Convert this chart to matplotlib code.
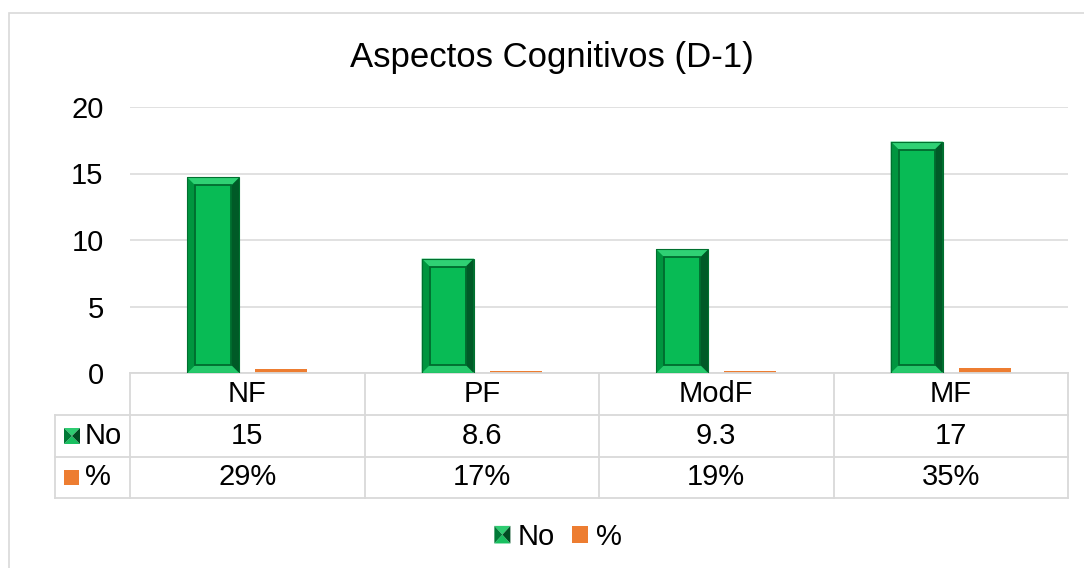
import matplotlib
matplotlib.use("Agg")
import matplotlib.pyplot as plt
from matplotlib.patches import Polygon, Rectangle
from matplotlib.lines import Line2D
from matplotlib.transforms import blended_transform_factory
from matplotlib.legend_handler import HandlerBase

plt.rcParams['font.family'] = ['Liberation Sans', 'DejaVu Sans']

categories = ['NF', 'PF', 'ModF', 'MF']
no_values = [14.7, 8.6, 9.3, 17.4]
pct_values = [0.294, 0.172, 0.186, 0.348]
no_labels = ['15', '8.6', '9.3', '17']
pct_labels = ['29%', '17%', '19%', '35%']
series_names = ['No', '%']

GREEN = '#08bb55'
ORANGE = '#ed7d31'
GRID = '#d9d9d9'
FS = 21

W, H = 1084, 568


def fx(px):
    return px / W


def fy(py):
    return 1 - py / H


def bevel_polys(x0, y0, w, h, bx, by):
    # outer corners, inner corners
    x1, y1 = x0 + w, y0 + h
    ix0, iy0, ix1, iy1 = x0 + bx, y0 + by, x1 - bx, y1 - by
    top = [(x0, y1), (x1, y1), (ix1, iy1), (ix0, iy1)]
    bottom = [(x0, y0), (x1, y0), (ix1, iy0), (ix0, iy0)]
    left = [(x0, y0), (ix0, iy0), (ix0, iy1), (x0, y1)]
    right = [(x1, y0), (ix1, iy0), (ix1, iy1), (x1, y1)]
    return top, bottom, left, right, (ix0, iy0, ix1 - ix0, iy1 - iy0)


def pyramid_key(x0, y0, w, h, transform):
    cx, cy = x0 + w / 2, y0 + h / 2
    pieces = [
        ([(x0, y0 + h), (x0 + w, y0 + h), (cx, cy)], '#2ecc71'),
        ([(x0, y0), (x0 + w, y0), (cx, cy)], '#19c060'),
        ([(x0, y0), (x0, y0 + h), (cx, cy)], '#007a36'),
        ([(x0 + w, y0), (x0 + w, y0 + h), (cx, cy)], '#004d22'),
    ]
    return [Polygon(p, closed=True, facecolor=c, edgecolor='none', transform=transform)
            for p, c in pieces]


class PyramidHandler(HandlerBase):
    def create_artists(self, legend, orig_handle, xdescent, ydescent,
                       width, height, fontsize, trans):
        return pyramid_key(-xdescent, -ydescent, width, height, trans)


fig = plt.figure(figsize=(W / 100, H / 100), dpi=100)
fig.patch.set_facecolor('white')

# chart frame
fig.add_artist(Rectangle((fx(9), fy(575)), fx(1200), fy(13) - fy(575), transform=fig.transFigure,
                         facecolor='none', edgecolor=GRID, lw=1.2))

ax = fig.add_axes([fx(130), fy(373), fx(1068) - fx(130), fy(107) - fy(373)])
ax.set_xlim(-0.5, len(categories) - 0.5)
ax.set_ylim(0, 20)
ax.set_yticks([0, 5, 10, 15, 20])
ax.set_xticks([])
ax.tick_params(axis='y', length=0, pad=19, labelsize=FS)
ax.grid(axis='y', color=GRID, lw=1.1)
ax.set_axisbelow(True)
for s in ['top', 'left', 'right']:
    ax.spines[s].set_visible(False)
ax.spines['bottom'].set_color(GRID)
ax.spines['bottom'].set_linewidth(1.3)

xs = list(range(len(categories)))
bw = 0.222
off = 0.145
bars = ax.bar([x - off for x in xs], no_values, width=bw, color=GREEN, zorder=2)
ax.bar([x + off for x in xs], pct_values, width=bw, color=ORANGE, zorder=2)

# bevel on green bars
bx = 8 / 234.5
by = 8 / 13.3
for b in bars:
    top, bottom, left, right, inner = bevel_polys(b.get_x(), 0, b.get_width(), b.get_height(), bx, by)
    for poly, c in [(top, '#2fd174'), (bottom, '#25c96b'), (left, '#00953f'), (right, '#005a27')]:
        ax.add_patch(Polygon(poly, closed=True, facecolor=c, edgecolor='none', zorder=3))
    ax.add_patch(Rectangle(inner[:2], inner[2], inner[3], facecolor='none',
                           edgecolor='#006b2e', lw=1.3, zorder=4))
    ax.add_patch(Rectangle((b.get_x(), 0), b.get_width(), b.get_height(), facecolor='none',
                           edgecolor='#00702f', lw=0.8, zorder=4))

# data table
axh = 373 - 107
tr = blended_transform_factory(ax.transData, ax.transAxes)


def ay(py):
    return -(py - 373) / axh


line_kw = dict(color=GRID, lw=1.3, clip_on=False)
for xb in [-0.5, 0.5, 1.5, 2.5, 3.5]:
    ax.add_line(Line2D([xb, xb], [ay(373), ay(498)], transform=tr, **line_kw))
xl = -0.5 - (130 - 55) / 234.5
for py in [415, 457, 498]:
    ax.add_line(Line2D([xl, 3.5], [ay(py), ay(py)], transform=tr, **line_kw))
ax.add_line(Line2D([xl, xl], [ay(415), ay(498)], transform=tr, **line_kw))

for i, cat in enumerate(categories):
    ax.text(i, ay(394), cat, transform=tr, ha='center', va='center', fontsize=FS)
    ax.text(i, ay(436), no_labels[i], transform=tr, ha='center', va='center', fontsize=FS)
    ax.text(i, ay(477), pct_labels[i], transform=tr, ha='center', va='center', fontsize=FS)

# row keys
for art in pyramid_key(fx(64), fy(444), fx(16), fy(428) - fy(444), fig.transFigure):
    fig.add_artist(art)
fig.add_artist(Rectangle((fx(64), fy(485)), fx(15), fy(470) - fy(485), transform=fig.transFigure,
                         facecolor=ORANGE, edgecolor='none'))
fig.text(fx(85), fy(436), series_names[0], ha='left', va='center', fontsize=FS)
fig.text(fx(85), fy(477), series_names[1], ha='left', va='center', fontsize=FS)

# title
fig.text(fx(552), fy(57), 'Aspectos Cognitivos (D-1)', ha='center', va='center', fontsize=25)

# legend
green_handle = Rectangle((0, 0), 1, 1)
orange_handle = Rectangle((0, 0), 1, 1, facecolor=ORANGE, edgecolor='none')
leg = fig.legend([green_handle, orange_handle], series_names, loc='center',
                 bbox_to_anchor=(fx(558), fy(537)), ncol=2, frameon=False, fontsize=FS,
                 handlelength=0.55, handleheight=0.55, handletextpad=0.25, columnspacing=0.6,
                 handler_map={green_handle: PyramidHandler()})

fig.savefig('out.png', dpi=100)
